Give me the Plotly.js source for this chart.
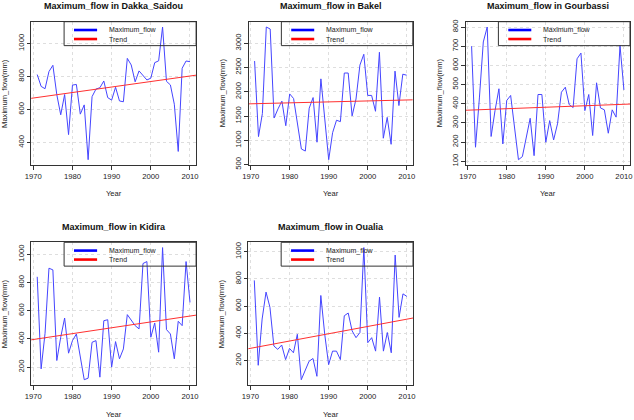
<!DOCTYPE html>
<html>
<head>
<meta charset="utf-8">
<script src="https://cdn.plot.ly/plotly-3.0.1.min.js"></script>
<style>
html,body{margin:0;padding:0;background:#fff;}
#chart{width:634px;height:420px;}
</style>
</head>
<body>
<div id="chart"></div>
<script>
// ---- data ----
const years = [1971,1972,1973,1974,1975,1976,1977,1978,1979,1980,
               1981,1982,1983,1984,1985,1986,1987,1988,1989,1990,
               1991,1992,1993,1994,1995,1996,1997,1998,1999,2000,
               2001,2002,2003,2004,2005,2006,2007,2008,2009,2010];

const stations = ["Dakka_Saidou","Bakel","Gourbassi","Kidira","Oualia"];

const dakkaSaidou = [812,740,726,830,868,690,568,691,448,748,
                     752,572,628,296,678,724,732,773,672,657,
                     735,652,647,910,870,768,834,803,779,790,
                     884,895,1100,771,749,632,346,850,894,890];

const bakel = [2632,1076,1550,3333,3292,1458,1646,1806,1300,1955,
               1860,1350,820,778,1660,1880,960,2265,1467,600,
               1156,1413,1384,2385,2385,1502,1850,2549,2771,1924,
               1924,1597,2813,1042,1472,917,2424,1715,2361,2340];

const gourbassi = [700,173,430,722,800,229,364,478,190,417,
                   443,260,108,124,234,324,129,448,448,199,
                   312,211,295,460,486,395,380,634,664,364,
                   448,234,509,378,368,246,368,330,704,472];

const kidira = [840,188,440,901,889,247,412,548,299,388,
                435,271,111,122,376,388,129,529,536,200,
                381,259,329,572,529,494,471,934,948,412,
                513,306,1047,466,435,259,525,494,948,659];

const oualia = [789,165,505,703,591,307,282,314,207,289,
                257,393,59,133,195,215,84,678,393,170,
                269,269,207,529,549,418,368,406,1030,331,
                368,269,666,269,406,257,975,517,690,671];

// trend values read at 1971 and 2010
const trendAt1971 = [673,1753,367,400,295];
const trendAt2010 = [803,1830,397,562,504];

// tick labels
const xTicks = [1970,1980,1990,2000,2010];
const yTicksDakka = [400,600,800,1000];
const yTicksBakel = [500,1000,1500,2000,2500,3000];
const yTicksGourbassi = [100,200,300,400,500,600,700,800];
const yTicksKidira = [200,400,600,800,1000];
const yTicksOualia = [200,400,600,800,1000];

const seriesName = "Maximum_flow";
const trendName = "Trend";
const xLabel = "Year";
const yLabel = "Maximum_flow(mm)";

// ---- layout geometry (pixels) ----
const W = 634, H = 420;
const boxes = [
  {l:31.1,  r:196.1, t:21.7,  b:165},
  {l:248.5, r:412.8, t:21.7,  b:165},
  {l:465.5, r:630.0, t:21.7,  b:165},
  {l:31.1,  r:196.1, t:242.3, b:385},
  {l:248.2, r:413.0, t:242.3, b:385}
];
const allSeries = [dakkaSaidou, bakel, gourbassi, kidira, oualia];
const allYTicks = [yTicksDakka, yTicksBakel, yTicksGourbassi, yTicksKidira, yTicksOualia];

const FONT = "Liberation Sans, Arial, sans-serif";
const traces = [];
const layout = {
  width: W, height: H,
  margin: {l:0, r:0, t:0, b:0},
  paper_bgcolor: "#fff", plot_bgcolor: "#fff",
  showlegend: false,
  font: {family: FONT, size: 8, color: "#222"},
  annotations: [], shapes: []
};

function rng(arr){
  const mn = Math.min(...arr), mx = Math.max(...arr), d = (mx - mn) * 0.04;
  return [mn - d, mx + d];
}
const xRange = rng(years);

stations.forEach((st, i) => {
  const n = i === 0 ? "" : String(i + 1);
  const xa = "x" + n, ya = "y" + n;
  const bx = boxes[i];
  const vals = allSeries[i];
  const yr = rng(vals);

  traces.push({
    x: years, y: vals, xaxis: xa, yaxis: ya, type: "scatter", mode: "lines",
    name: seriesName, line: {color: "#4545ff", width: 1}, hoverinfo: "skip"
  });
  const slope = (trendAt2010[i] - trendAt1971[i]) / (2010 - 1971);
  const tx = [xRange[0], xRange[1]];
  const ty = tx.map(x => trendAt1971[i] + slope * (x - 1971));
  traces.push({
    x: tx, y: ty, xaxis: xa, yaxis: ya, type: "scatter", mode: "lines",
    name: trendName, line: {color: "#ff3030", width: 1}, hoverinfo: "skip"
  });

  const common = {
    ticks: "outside", ticklen: 3.5, tickcolor: "#333", tickwidth: 1,
    showline: true, mirror: true, linecolor: "#333", linewidth: 1,
    showgrid: true, gridcolor: "#dedede", griddash: "dot", gridwidth: 1,
    zeroline: false, tickfont: {family: FONT, size: 7.7, color: "#222"},
    fixedrange: true
  };
  layout["xaxis" + n] = Object.assign({}, common, {
    domain: [bx.l / W, bx.r / W], range: xRange, tickvals: xTicks,
    anchor: ya
  });
  layout["yaxis" + n] = Object.assign({}, common, {
    domain: [1 - bx.b / H, 1 - bx.t / H], range: yr, tickvals: allYTicks[i],
    tickangle: -90, anchor: xa
  });

  const xd = xa + " domain", yd = ya + " domain";
  // title
  layout.annotations.push({
    text: "Maximum_flow in " + st, xref: xd, yref: yd, x: 0.5, y: 1,
    yshift: 15.7, xanchor: "center", yanchor: "middle", showarrow: false,
    font: {family: FONT, size: 9, color: "#111", weight: "bold"}
  });
  // axis titles
  layout.annotations.push({
    text: xLabel, xref: xd, yref: yd, x: 0.5, y: 0, yshift: -29,
    xanchor: "center", yanchor: "middle", showarrow: false,
    font: {family: FONT, size: 7.6, color: "#222"}
  });
  layout.annotations.push({
    text: yLabel, xref: xd, yref: yd, x: 0, y: 0.5, xshift: -26.5,
    xanchor: "center", yanchor: "middle", textangle: -90, showarrow: false,
    font: {family: FONT, size: 7.6, color: "#222"}
  });
  // legend box
  layout.shapes.push({
    type: "rect", xref: xd, yref: yd, x0: 0.2, x1: 1, y0: 0.833, y1: 1,
    line: {color: "#333", width: 1}, fillcolor: "rgba(0,0,0,0)"
  });
  layout.shapes.push({
    type: "line", xref: xd, yref: yd, x0: 0.26, x1: 0.40, y0: 0.942, y1: 0.942,
    line: {color: "#0000ff", width: 2.6}
  });
  layout.shapes.push({
    type: "line", xref: xd, yref: yd, x0: 0.26, x1: 0.40, y0: 0.879, y1: 0.879,
    line: {color: "#ff0000", width: 2.6}
  });
  layout.annotations.push({
    text: seriesName, xref: xd, yref: yd, x: 0.46, y: 0.942,
    xanchor: "left", yanchor: "middle", showarrow: false,
    font: {family: FONT, size: 7, color: "#222"}
  });
  layout.annotations.push({
    text: trendName, xref: xd, yref: yd, x: 0.46, y: 0.879,
    xanchor: "left", yanchor: "middle", showarrow: false,
    font: {family: FONT, size: 7, color: "#222"}
  });
});

Plotly.newPlot("chart", traces, layout, {staticPlot: true, displayModeBar: false});
</script>
</body>
</html>
